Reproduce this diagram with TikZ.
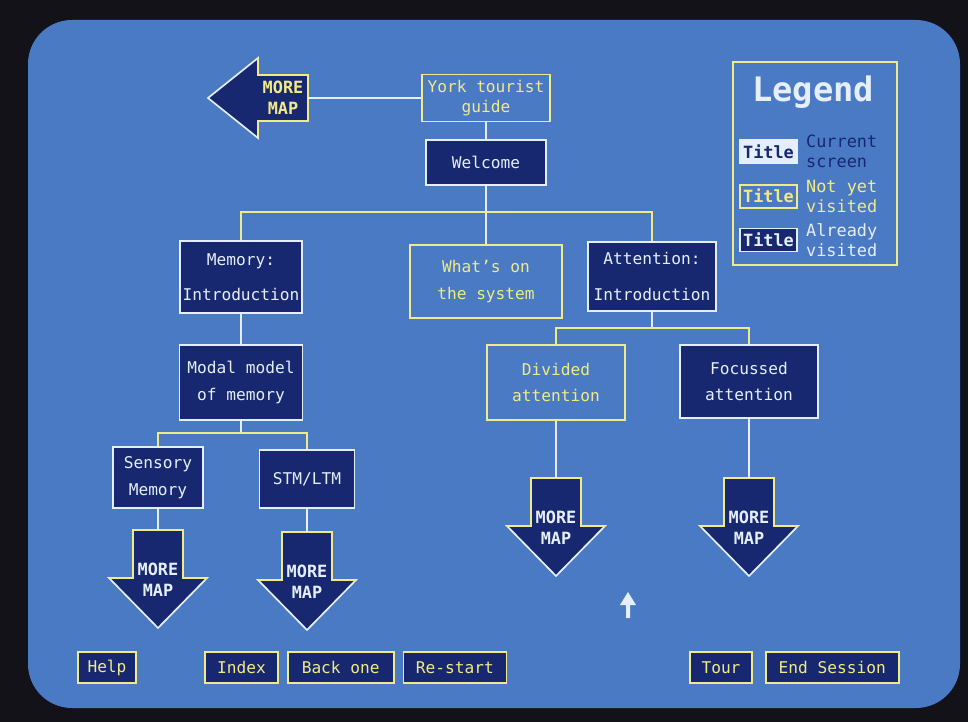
\documentclass[tikz,border=0pt]{standalone}
\usepackage{fontspec}
\setmainfont{DejaVu Sans Mono}
\usepackage{tikz}
\usetikzlibrary{positioning}

\definecolor{crtframe}{RGB}{18,18,24}
\definecolor{crtblue}{RGB}{74,122,196}
\definecolor{crtnavy}{RGB}{24,40,112}
\definecolor{crtyellow}{RGB}{240,234,135}
\definecolor{crtwhite}{RGB}{228,238,252}

\begin{document}
\begin{tikzpicture}[
    x=0.025cm, y=-0.025cm,
    font=\fontsize{11.5}{19}\selectfont,
    visited/.style={
        draw=crtwhite,
        fill=crtnavy,
        text=crtwhite,
        line width=1.2pt,
        align=center,
        inner sep=1pt
    },
    unvisited/.style={
        draw=crtyellow,
        text=crtyellow,
        line width=1.2pt,
        align=center,
        inner sep=1pt
    },
    current/.style={
        draw=crtwhite,
        fill=crtwhite,
        text=crtnavy,
        line width=1.2pt,
        align=center,
        inner sep=1pt
    },
    button/.style={
        draw=crtyellow,
        fill=crtnavy,
        text=crtyellow,
        line width=1.2pt,
        minimum height=0.775cm,
        inner sep=1pt
    },
    legbox/.style={
        minimum width=1.425cm,
        minimum height=0.575cm,
        font=\fontsize{12}{14}\selectfont\bfseries
    },
    legtext/.style={
        align=left,
        inner sep=0pt,
        font=\fontsize{12}{14}\selectfont
    },
    link/.style={draw=crtwhite, line width=1.2pt},
    bus/.style={draw=crtyellow, line width=1.2pt},
    mapbody/.style={fill=crtnavy, draw=crtwhite, line width=1.2pt},
    maptext/.style={
        text=crtwhite,
        align=center,
        inner sep=0pt,
        font=\fontsize{12}{15}\selectfont\bfseries
    }
]

% CRT frame and screen
\fill[crtframe] (0,0) rectangle (968,722);
\fill[crtblue, rounded corners=1.1cm] (28,20) rectangle (960,708);

% Top of the map
\node[unvisited, minimum width=3.2cm, minimum height=1.175cm, font=\fontsize{11.5}{14}\selectfont] (york) at (486,98) {York tourist\\guide};
\node[visited, minimum width=3cm, minimum height=1.125cm] (welcome) at (486,162.5) {Welcome};

% MORE MAP pointing left
\draw[mapbody] (308,75) -- (258,75) -- (258,58) -- (208,98) -- (258,138) -- (258,121) -- (308,121) -- cycle;
\draw[bus] (258,58) -- (258,75) -- (308,75) -- (308,121) -- (258,121) -- (258,138);
\coordinate (mapW-tail) at (308,98);
\node[maptext, text=crtyellow] (mapW) at (283,98) {MORE\\MAP};

% First level
\node[visited, minimum width=3.05cm, minimum height=1.8cm, font=\fontsize{11.5}{25}\selectfont] (memory) at (241,277) {Memory:\\Introduction};
\node[unvisited, minimum width=3.8cm, minimum height=1.825cm] (whatson) at (486,281.5) {What's on\\the system};
\node[visited, minimum width=3.2cm, minimum height=1.725cm, font=\fontsize{11.5}{25}\selectfont] (attention) at (652,276.5) {Attention:\\Introduction};

% Memory branch
\node[visited, minimum width=3.075cm, minimum height=1.875cm] (modal) at (241,382.5) {Modal model\\of memory};
\node[visited, minimum width=2.25cm, minimum height=1.525cm] (sensory) at (158,477.5) {Sensory\\Memory};
\node[visited, minimum width=2.375cm, minimum height=1.45cm] (stm) at (307,479) {STM/LTM};

% Attention branch
\node[unvisited, minimum width=3.45cm, minimum height=1.875cm] (divided) at (556,382.5) {Divided\\attention};
\node[visited, minimum width=3.45cm, minimum height=1.825cm] (focussed) at (749,381.5) {Focussed\\attention};

% MORE MAP pointing down
\coordinate (mapS-top) at (158,530);
\draw[mapbody] (mapS-top) ++(-25,0) -- ++(50,0) -- ++(0,48) -- ++(24,0) -- ++(-49,50) -- ++(-49,-50) -- ++(24,0) -- cycle;
\draw[bus] (mapS-top) ++(-49,48) -- ++(24,0) -- ++(0,-48) -- ++(50,0) -- ++(0,48) -- ++(24,0);
\node[maptext] (mapS) at (158,580) {MORE\\MAP};

\coordinate (mapL-top) at (307,532);
\draw[mapbody] (mapL-top) ++(-25,0) -- ++(50,0) -- ++(0,48) -- ++(24,0) -- ++(-49,50) -- ++(-49,-50) -- ++(24,0) -- cycle;
\draw[bus] (mapL-top) ++(-49,48) -- ++(24,0) -- ++(0,-48) -- ++(50,0) -- ++(0,48) -- ++(24,0);
\node[maptext] (mapL) at (307,582) {MORE\\MAP};

\coordinate (mapD-top) at (556,478);
\draw[mapbody] (mapD-top) ++(-25,0) -- ++(50,0) -- ++(0,48) -- ++(24,0) -- ++(-49,50) -- ++(-49,-50) -- ++(24,0) -- cycle;
\draw[bus] (mapD-top) ++(-49,48) -- ++(24,0) -- ++(0,-48) -- ++(50,0) -- ++(0,48) -- ++(24,0);
\node[maptext] (mapD) at (556,528) {MORE\\MAP};

\coordinate (mapF-top) at (749,478);
\draw[mapbody] (mapF-top) ++(-25,0) -- ++(50,0) -- ++(0,48) -- ++(24,0) -- ++(-49,50) -- ++(-49,-50) -- ++(24,0) -- cycle;
\draw[bus] (mapF-top) ++(-49,48) -- ++(24,0) -- ++(0,-48) -- ++(50,0) -- ++(0,48) -- ++(24,0);
\node[maptext] (mapF) at (749,528) {MORE\\MAP};

% Connections
\coordinate (bus1) at (486,212);
\coordinate (bus2) at (241,433);
\coordinate (bus3) at (652,328);
\draw[link] (york) -- (mapW-tail);
\draw[link] (york) -- (welcome);
\draw[link] (welcome) -- (bus1);
\draw[bus] (bus1) -| (memory);
\draw[bus] (bus1) -| (attention);
\draw[link] (bus1) -- (whatson);
\draw[link] (memory) -- (modal);
\draw[link] (modal) -- (bus2);
\draw[bus] (bus2) -| (sensory);
\draw[bus] (bus2) -| (stm);
\draw[link] (attention) -- (bus3);
\draw[bus] (bus3) -| (divided);
\draw[bus] (bus3) -| (focussed);
\draw[link] (sensory) -- (mapS-top);
\draw[link] (stm) -- (mapL-top);
\draw[link] (divided) -- (mapD-top);
\draw[link] (focussed) -- (mapF-top);

% Mouse pointer
\fill[crtwhite] (628,592) -- (636,605) -- (630,605) -- (630,618) -- (626,618) -- (626,605) -- (620,605) -- cycle;

% Legend
\node[draw=crtyellow, line width=1.2pt, minimum width=4.1cm, minimum height=5.075cm] (legend) at (815,163.5) {};
\node[text=crtwhite, font=\fontsize{24}{28}\selectfont\bfseries] (legtitle) at (813,92) {Legend};
\node[current, legbox] (legcur) at (768.5,151.5) {Title};
\node[unvisited, legbox, below=0.5cm of legcur] (legnew) {Title};
\node[visited, legbox, below=0.475cm of legnew] (legold) {Title};
\node[legtext, text=crtnavy, right=0.2cm of legcur] (legcur-txt) {Current\\screen};
\node[legtext, text=crtyellow, right=0.2cm of legnew] (legnew-txt) {Not yet\\visited};
\node[legtext, text=crtwhite, right=0.2cm of legold] (legold-txt) {Already\\visited};

% Buttons
\node[button, minimum width=1.45cm] (help) at (107,667.5) {Help};
\node[button, minimum width=1.825cm] (index) at (241.5,667.5) {Index};
\node[button, minimum width=2.65cm, right=0.2cm of index] (backone) {Back one};
\node[button, minimum width=2.575cm, right=0.2cm of backone] (restart) {Re-start};
\node[button, minimum width=1.55cm] (tour) at (721,667.5) {Tour};
\node[button, minimum width=3.325cm, right=0.3cm of tour] (endsession) {End Session};

\end{tikzpicture}
\end{document}
